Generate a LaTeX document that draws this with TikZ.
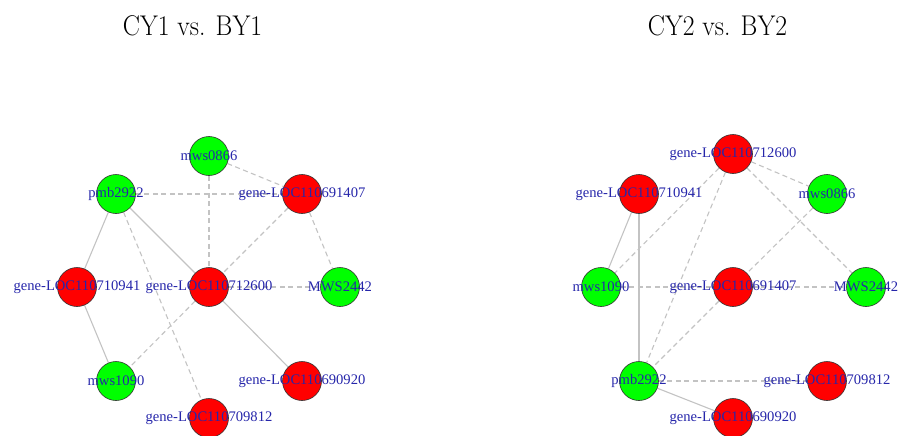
\documentclass[tikz,border=0pt]{standalone}
\usepackage{fontspec}
\newfontfamily\labelfont{Liberation Serif}
\usetikzlibrary{backgrounds}
\definecolor{labelblue}{RGB}{38,38,170}
\definecolor{edgegray}{RGB}{195,195,195}
\definecolor{upred}{RGB}{255,0,0}
\definecolor{downgreen}{RGB}{0,255,0}
\begin{document}
\begin{tikzpicture}[x=1pt,y=-1pt,
  gnode/.style={circle,draw=black!80,line width=0.6pt,minimum size=39pt,inner sep=0pt},
  upnode/.style={gnode,fill=upred},
  downnode/.style={gnode,fill=downgreen},
  lbl/.style={font=\labelfont\fontsize{14.6}{16}\selectfont,text=labelblue,inner sep=0pt},
  link/.style={draw=edgegray,line width=1.1pt},
  dlink/.style={link,dash pattern=on 5pt off 3.5pt},
  ttl/.style={font=\fontsize{28.5}{32}\selectfont,inner sep=0pt,anchor=base}]
\useasboundingbox (0,0) rectangle (899,436);

% panel titles
\node[ttl] (t1) at (192.5,36) {\scalebox{0.9}[1]{CY1 vs. BY1}};
\node[ttl] (t2) at (717.5,36) {\scalebox{0.9}[1]{CY2 vs. BY2}};

% ---- CY1 vs. BY1 ----
\node[downnode,label={[lbl]center:mws0866}] (a0866) at (209,156) {};
\node[downnode,label={[lbl]center:pmb2922}] (a2922) at (116,194) {};
\node[upnode,label={[lbl]center:gene-LOC110691407}] (a1407) at (302,194) {};
\node[upnode,label={[lbl]center:gene-LOC110710941}] (a0941) at (77,287) {};
\node[upnode,label={[lbl]center:gene-LOC110712600}] (a2600) at (209,287) {};
\node[downnode,label={[lbl]center:MWS2442}] (a2442) at (340,287) {};
\node[downnode,label={[lbl]center:mws1090}] (a1090) at (116,381) {};
\node[upnode,label={[lbl]center:gene-LOC110690920}] (a0920) at (302,381) {};
\node[upnode,label={[lbl]center:gene-LOC110709812}] (a9812) at (209,418) {};

% ---- CY2 vs. BY2 ----
\node[upnode,label={[lbl]center:gene-LOC110712600}] (b2600) at (733,154) {};
\node[upnode,label={[lbl]center:gene-LOC110710941}] (b0941) at (639,194) {};
\node[downnode,label={[lbl]center:mws0866}] (b0866) at (827,194) {};
\node[downnode,label={[lbl]center:mws1090}] (b1090) at (601,287) {};
\node[upnode,label={[lbl]center:gene-LOC110691407}] (b1407) at (733,287) {};
\node[downnode,label={[lbl]center:MWS2442}] (b2442) at (866,287) {};
\node[downnode,label={[lbl]center:pmb2922}] (b2922) at (639,381) {};
\node[upnode,label={[lbl]center:gene-LOC110709812}] (b9812) at (827,381) {};
\node[upnode,label={[lbl]center:gene-LOC110690920}] (b0920) at (733,418) {};

\begin{scope}[on background layer]
  % left network
  \draw[dlink] (a2922) -- (a1407);
  \draw[dlink] (a0866) -- (a1407);
  \draw[dlink] (a0866) -- (a2600);
  \draw[link]  (a2922) -- (a0941);
  \draw[link]  (a2922) -- (a2600);
  \draw[dlink] (a2922) -- (a9812);
  \draw[dlink] (a1407) -- (a2600);
  \draw[dlink] (a2600) -- (a1090);
  \draw[dlink] (a1407) -- (a2442);
  \draw[dlink] (a2600) -- (a2442);
  \draw[link]  (a0941) -- (a1090);
  \draw[link]  (a2600) -- (a0920);
  % right network
  \draw[dlink] (b2600) -- (b0866);
  \draw[dlink] (b2600) -- (b2442);
  \draw[dlink] (b2600) -- (b1090);
  \draw[dlink] (b2600) -- (b2922);
  \draw[link]  (b0941) -- (b1090);
  \draw[link]  (b0941) -- (b2922);
  \draw[dlink] (b0866) -- (b1407);
  \draw[dlink] (b1090) -- (b1407);
  \draw[dlink] (b1407) -- (b2442);
  \draw[dlink] (b1407) -- (b2922);
  \draw[dlink] (b2922) -- (b9812);
  \draw[link]  (b2922) -- (b0920);
\end{scope}
\end{tikzpicture}
\end{document}
